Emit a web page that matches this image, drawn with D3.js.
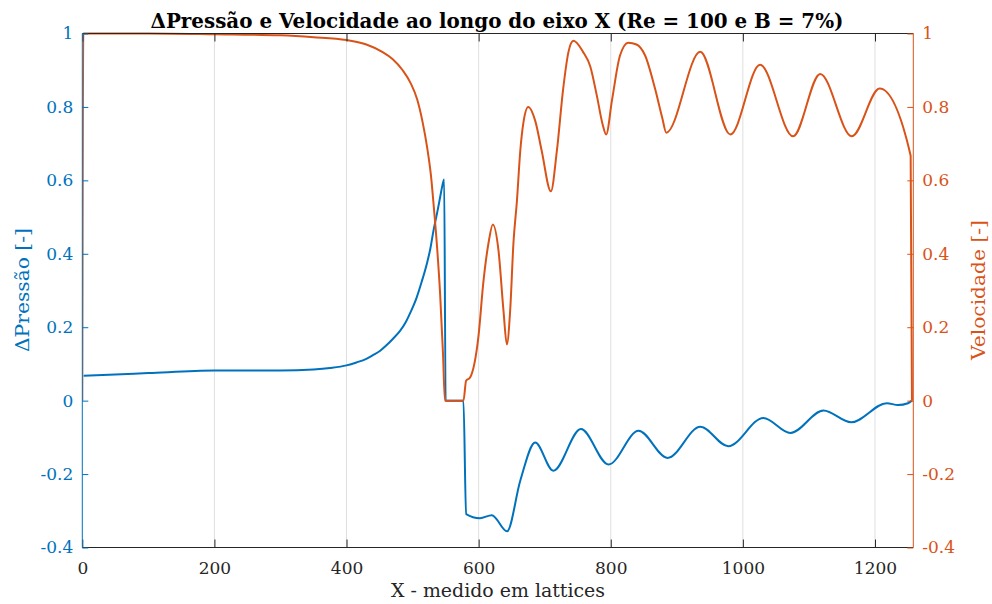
<!DOCTYPE html>
<html><head><meta charset="utf-8">
<script src="https://cdn.jsdelivr.net/npm/d3@7"></script>
<style>body{margin:0;background:#fff}svg{display:block}</style>
</head><body>
<svg id="c" width="992" height="604"></svg>
<script>
const titleText = "ΔPressão e Velocidade ao longo do eixo X (Re = 100 e B = 7%)";
const xLabel = "X - medido em lattices";
const yLeftLabel = "ΔPressão [-]";
const yRightLabel = "Velocidade [-]";
const xTicks = [0, 200, 400, 600, 800, 1000, 1200];
const yTicks = [-0.4, -0.2, 0, 0.2, 0.4, 0.6, 0.8, 1];
const yTickLabels = ["-0.4", "-0.2", "0", "0.2", "0.4", "0.6", "0.8", "1"];
const xDomain = [0, 1258];
const yDomain = [-0.4, 1];

const pressX = [2,50,100,200,300,350,375,400,415,430,440,451,460,470,481,490,498,506,514,521.6,527,531.6,537,541.7,545,547.8,550,577,581,602,620,643,663,685.6,713,754.8,796.6,842,886,935.5,978,1031,1072,1122,1164,1218,1235,1250,1256];
const pressY = [0.068,0.071,0.075,0.082,0.082,0.085,0.089,0.096,0.104,0.114,0.124,0.136,0.15,0.168,0.19,0.215,0.245,0.28,0.325,0.373,0.415,0.463,0.51,0.554,0.585,0.602,0,0,-0.309,-0.32,-0.312,-0.356,-0.218,-0.114,-0.191,-0.077,-0.174,-0.082,-0.156,-0.071,-0.124,-0.047,-0.088,-0.027,-0.059,-0.007,-0.012,-0.007,0];

const velX = [0,1.5,100,200,300,350,400,430,454,470,485,497,507,515,522,528,532,537,541.7,546,549,577,581,587,600,607,615,621.5,630,637.6,642.7,647.7,652.7,658,663,668,675,686,695.5,709.4,718.4,728,736,743.5,758,769,779,788,793,802,814,826.5,839,852,867,878,884,935.5,981,1026,1076,1117,1165,1207,1254,1256];
const velY = [0,1,1,0.998,0.995,0.99,0.982,0.97,0.95,0.93,0.9,0.865,0.82,0.76,0.69,0.61,0.53,0.42,0.29,0.13,0,0,0.054,0.063,0.18,0.32,0.43,0.48,0.41,0.245,0.153,0.245,0.43,0.545,0.68,0.76,0.80,0.76,0.68,0.57,0.68,0.85,0.95,0.98,0.95,0.91,0.83,0.75,0.725,0.82,0.94,0.975,0.97,0.94,0.85,0.77,0.73,0.95,0.725,0.915,0.72,0.89,0.72,0.85,0.667,0];

const blue = "#0072BD", orange = "#D95319", dark = "#262626";
const L = 82.3, R = 913.3, T = 33.5, B = 547.5;
const svg = d3.select("#c");
const font = "'DejaVu Serif', 'Liberation Serif', serif";

const x = d3.scaleLinear().domain(xDomain).range([L, R]);
const yl = d3.scaleLinear().domain(yDomain).range([B, T]);
const yr = d3.scaleLinear().domain(yDomain).range([B, T]);

// grid
svg.append("g").selectAll("line").data(xTicks.filter(d => d > 0)).join("line")
  .attr("x1", d => x(d)).attr("x2", d => x(d)).attr("y1", T).attr("y2", B)
  .attr("stroke", "#dfdfdf").attr("stroke-width", 1);

svg.append("clipPath").attr("id", "clip").append("rect")
  .attr("x", L).attr("y", T - 2).attr("width", R - L).attr("height", B - T + 4);

const gPlot = svg.append("g").attr("clip-path", "url(#clip)");
const lineP = d3.line().x((d, i) => x(pressX[i])).y(d => yl(d)).curve(d3.curveMonotoneX);
const lineV = d3.line().x((d, i) => x(velX[i])).y(d => yr(d)).curve(d3.curveMonotoneX);
gPlot.append("path").attr("d", lineP(pressY)).attr("fill", "none").attr("stroke", blue).attr("stroke-width", 2).attr("stroke-linejoin", "round");
gPlot.append("path").attr("d", lineV(velY)).attr("fill", "none").attr("stroke", orange).attr("stroke-width", 2).attr("stroke-linejoin", "round");

// bottom axis
const xb = d3.axisBottom(x).tickValues(xTicks).tickSize(-8).tickPadding(14).tickFormat(d => String(d));
const gx = svg.append("g").attr("transform", `translate(0,${B})`).call(xb);
gx.select(".domain").attr("stroke", dark).attr("d", `M${L},0H${R}`);
gx.selectAll(".tick line").attr("stroke", dark);
gx.selectAll(".tick text").attr("fill", dark).style("font-family", font).style("font-size", "17px");
// top axis
const xt = d3.axisTop(x).tickValues(xTicks).tickSize(-8).tickFormat("");
const gxt = svg.append("g").attr("transform", `translate(0,${T})`).call(xt);
gxt.select(".domain").attr("stroke", dark).attr("d", `M${L},0H${R}`);
gxt.selectAll(".tick line").attr("stroke", dark);

const yFmt = d => yTickLabels[yTicks.indexOf(d)];
// left axis
const ya = d3.axisLeft(yl).tickValues(yTicks).tickSize(-6).tickPadding(9).tickFormat(yFmt);
const gyl = svg.append("g").attr("transform", `translate(${L},0)`).call(ya);
gyl.select(".domain").attr("stroke", blue).attr("d", `M0,${T}V${B}`);
gyl.selectAll(".tick line").attr("stroke", blue);
gyl.selectAll(".tick text").attr("fill", blue).style("font-family", font).style("font-size", "17px");
// right axis
const yb = d3.axisRight(yr).tickValues(yTicks).tickSize(-6).tickPadding(9).tickFormat(yFmt);
const gyr = svg.append("g").attr("transform", `translate(${R},0)`).call(yb);
gyr.select(".domain").attr("stroke", orange).attr("d", `M0,${T}V${B}`);
gyr.selectAll(".tick line").attr("stroke", orange);
gyr.selectAll(".tick text").attr("fill", orange).style("font-family", font).style("font-size", "17px");

// labels
svg.append("text").attr("x", 497).attr("y", 28).attr("text-anchor", "middle")
  .attr("textLength", 693).attr("lengthAdjust", "spacingAndGlyphs")
  .style("font-family", font).style("font-size", "20px").style("font-weight", "bold").attr("fill", "#000")
  .text(titleText);
svg.append("text").attr("x", 498).attr("y", 597).attr("text-anchor", "middle")
  .attr("textLength", 214).attr("lengthAdjust", "spacingAndGlyphs")
  .style("font-family", font).style("font-size", "19px").attr("fill", dark).text(xLabel);
svg.append("text").attr("transform", "translate(29,290) rotate(-90)").attr("text-anchor", "middle")
  .attr("textLength", 124).attr("lengthAdjust", "spacingAndGlyphs")
  .style("font-family", font).style("font-size", "19px").attr("fill", blue).text(yLeftLabel);
svg.append("text").attr("transform", "translate(985,290) rotate(-90)").attr("text-anchor", "middle")
  .attr("textLength", 140).attr("lengthAdjust", "spacingAndGlyphs")
  .style("font-family", font).style("font-size", "19px").attr("fill", orange).text(yRightLabel);
</script>
</body></html>
